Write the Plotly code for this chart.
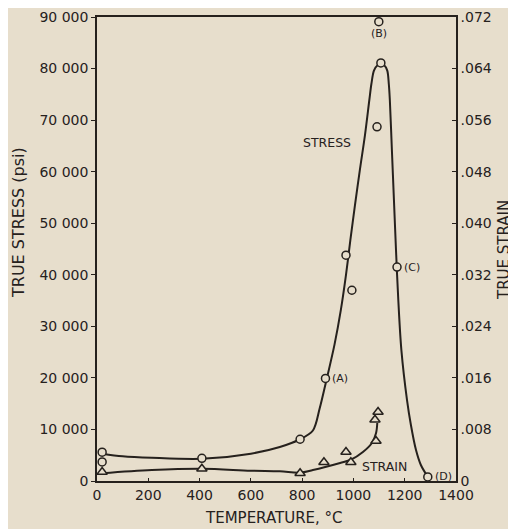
import plotly.graph_objects as go

# ---- data ----
# stress data points (open circles), temperature °C vs true stress psi
stress_temp = [20, 20, 409, 792, 891, 971, 994, 1092, 1107, 1099, 1170, 1290]
stress_vals = [5600, 3700, 4400, 8100, 19900, 43800, 37000, 68700, 81100, 89100, 41500, 800]

# fitted stress curve (traced)
stress_curve_temp = [20, 100, 214, 409, 600, 713, 792, 842, 868, 893, 926, 951, 971, 988, 1006, 1025, 1045,
                     1062, 1070, 1080, 1093, 1107, 1121, 1132, 1138, 1142, 1150, 1158, 1166, 1175, 1187,
                     1209, 1224, 1244, 1263, 1290]
stress_curve_vals = [5300, 4800, 4500, 4300, 5300, 6600, 8100, 9800, 14000, 19200, 26400, 33200, 40000,
                     46700, 53500, 60300, 67100, 73900, 77000, 79600, 80600, 80800, 80600, 79600, 77000,
                     73900, 64200, 54500, 44800, 35100, 25400, 15700, 10900, 6000, 3100, 800]

# strain data points (open triangles)
strain_temp = [20, 409, 792, 885, 971, 990, 1088, 1084, 1096]
strain_vals = [0.0014, 0.0019, 0.0012, 0.0029, 0.0045, 0.0029, 0.0062, 0.0095, 0.0107]

# fitted strain curve (traced)
strain_curve_temp = [20, 214, 409, 600, 713, 792, 842, 948, 990, 1037, 1072, 1088, 1093]
strain_curve_vals = [0.0012, 0.0017, 0.0019, 0.0016, 0.0015, 0.0013, 0.0017, 0.0028, 0.0033, 0.0045, 0.0059, 0.0074, 0.0090]

x_ticks = [0, 200, 400, 600, 800, 1000, 1200, 1400]
y_ticks = [0, 10000, 20000, 30000, 40000, 50000, 60000, 70000, 80000, 90000]
y_tick_text = ["0", "10 000", "20 000", "30 000", "40 000", "50 000", "60 000", "70 000", "80 000", "90 000"]
y2_ticks = [0, 0.008, 0.016, 0.024, 0.032, 0.040, 0.048, 0.056, 0.064, 0.072]
y2_tick_text = ["0", ".008", ".016", ".024", ".032", ".040", ".048", ".056", ".064", ".072"]

# labels: (text, temperature, stress-value)
point_labels = [("(A)", 891, 19900), ("(B)", 1099, 89100), ("(C)", 1170, 41500), ("(D)", 1290, 800)]

BG = "#e7decc"
INK = "#26211d"
FONT = "DejaVu Sans"

# page geometry (the browser adds an 8px body margin)
OFF = 8
PAGE_W, PAGE_H = 516, 529
PLOT_L, PLOT_R, PLOT_T, PLOT_B = 97, 456, 17, 481   # plot area in page pixels
W, H = PAGE_W - OFF, PAGE_H - OFF
L, T = PLOT_L - OFF, PLOT_T - OFF
R, B = PAGE_W - PLOT_R, PAGE_H - PLOT_B
pw, ph = PLOT_R - PLOT_L, PLOT_B - PLOT_T


def page_to_paper(px, py):
    return (px - PLOT_L) / pw, (PLOT_B - py) / ph


fig = go.Figure()
fig.add_trace(go.Scatter(x=stress_curve_temp, y=stress_curve_vals, mode="lines",
                         line=dict(color=INK, width=2, shape="spline", smoothing=0.9),
                         hoverinfo="skip", showlegend=False))
fig.add_trace(go.Scatter(x=strain_curve_temp, y=strain_curve_vals, mode="lines", yaxis="y2",
                         line=dict(color=INK, width=2, shape="spline", smoothing=1.0),
                         hoverinfo="skip", showlegend=False))
fig.add_trace(go.Scatter(x=stress_temp, y=stress_vals, mode="markers",
                         marker=dict(symbol="circle", size=8, color=BG, line=dict(color=INK, width=1.5)),
                         showlegend=False, cliponaxis=False))
fig.add_trace(go.Scatter(x=strain_temp, y=strain_vals, mode="markers", yaxis="y2",
                         marker=dict(symbol="triangle-up", size=9, color=BG, line=dict(color=INK, width=1.5)),
                         showlegend=False))

# point letter labels
for txt, t, s in point_labels:
    if txt == "(B)":
        fig.add_annotation(x=t, y=s, text=txt, showarrow=False, xanchor="center", yshift=-12,
                           font=dict(family=FONT, size=11, color=INK))
    else:
        fig.add_annotation(x=t, y=s, text=txt, showarrow=False, xanchor="left", xshift=5,
                           font=dict(family=FONT, size=11, color=INK))

fig.add_annotation(x=897, y=65600, text="STRESS", showarrow=False, xanchor="center",
                   font=dict(family=FONT, size=12.5, color=INK))
fig.add_annotation(x=1025, y=0.0023, yref="y2", text="STRAIN", showarrow=False, xanchor="left",
                   font=dict(family=FONT, size=12.5, color=INK))

# axis titles (positions given in page pixels)
titles = [("TRUE STRESS (psi)", 18, 223, -90, 16), ("TRUE STRAIN", 504, 250, -90, 15),
          ("TEMPERATURE, °C", 274, 518, 0, 15)]
for txt, px, py, ang, fs in titles:
    xp, yp = page_to_paper(px, py)
    fig.add_annotation(x=xp, y=yp, xref="paper", yref="paper", text=txt, showarrow=False,
                       textangle=ang, xanchor="center", yanchor="middle",
                       font=dict(family=FONT, size=fs, color=INK))

fig.update_layout(
    width=W, height=H,
    margin=dict(l=L, r=R, t=T, b=B, autoexpand=False),
    paper_bgcolor=BG, plot_bgcolor=BG,
    font=dict(family=FONT, size=14, color=INK),
    xaxis=dict(range=[0, 1400], tickvals=x_ticks, ticks="inside", ticklen=3, tickcolor=INK,
               showline=True, linecolor=INK, linewidth=1.5, mirror=True, showgrid=False, zeroline=False,
               tickfont=dict(family=FONT, size=14, color=INK)),
    yaxis=dict(range=[0, 90000], tickvals=y_ticks, ticktext=y_tick_text, ticks="outside", ticklen=4,
               tickcolor=INK, showline=True, linecolor=INK, linewidth=1.5, showgrid=False, zeroline=False,
               tickfont=dict(family=FONT, size=14, color=INK)),
    yaxis2=dict(range=[0, 0.072], tickvals=y2_ticks, ticktext=y2_tick_text, overlaying="y", side="right",
                ticks="inside", ticklen=4, tickcolor=INK, showline=True, linecolor=INK, linewidth=1.5,
                showgrid=False, zeroline=False, tickfont=dict(family=FONT, size=14, color=INK)),
)

fig.write_html("out.html")
